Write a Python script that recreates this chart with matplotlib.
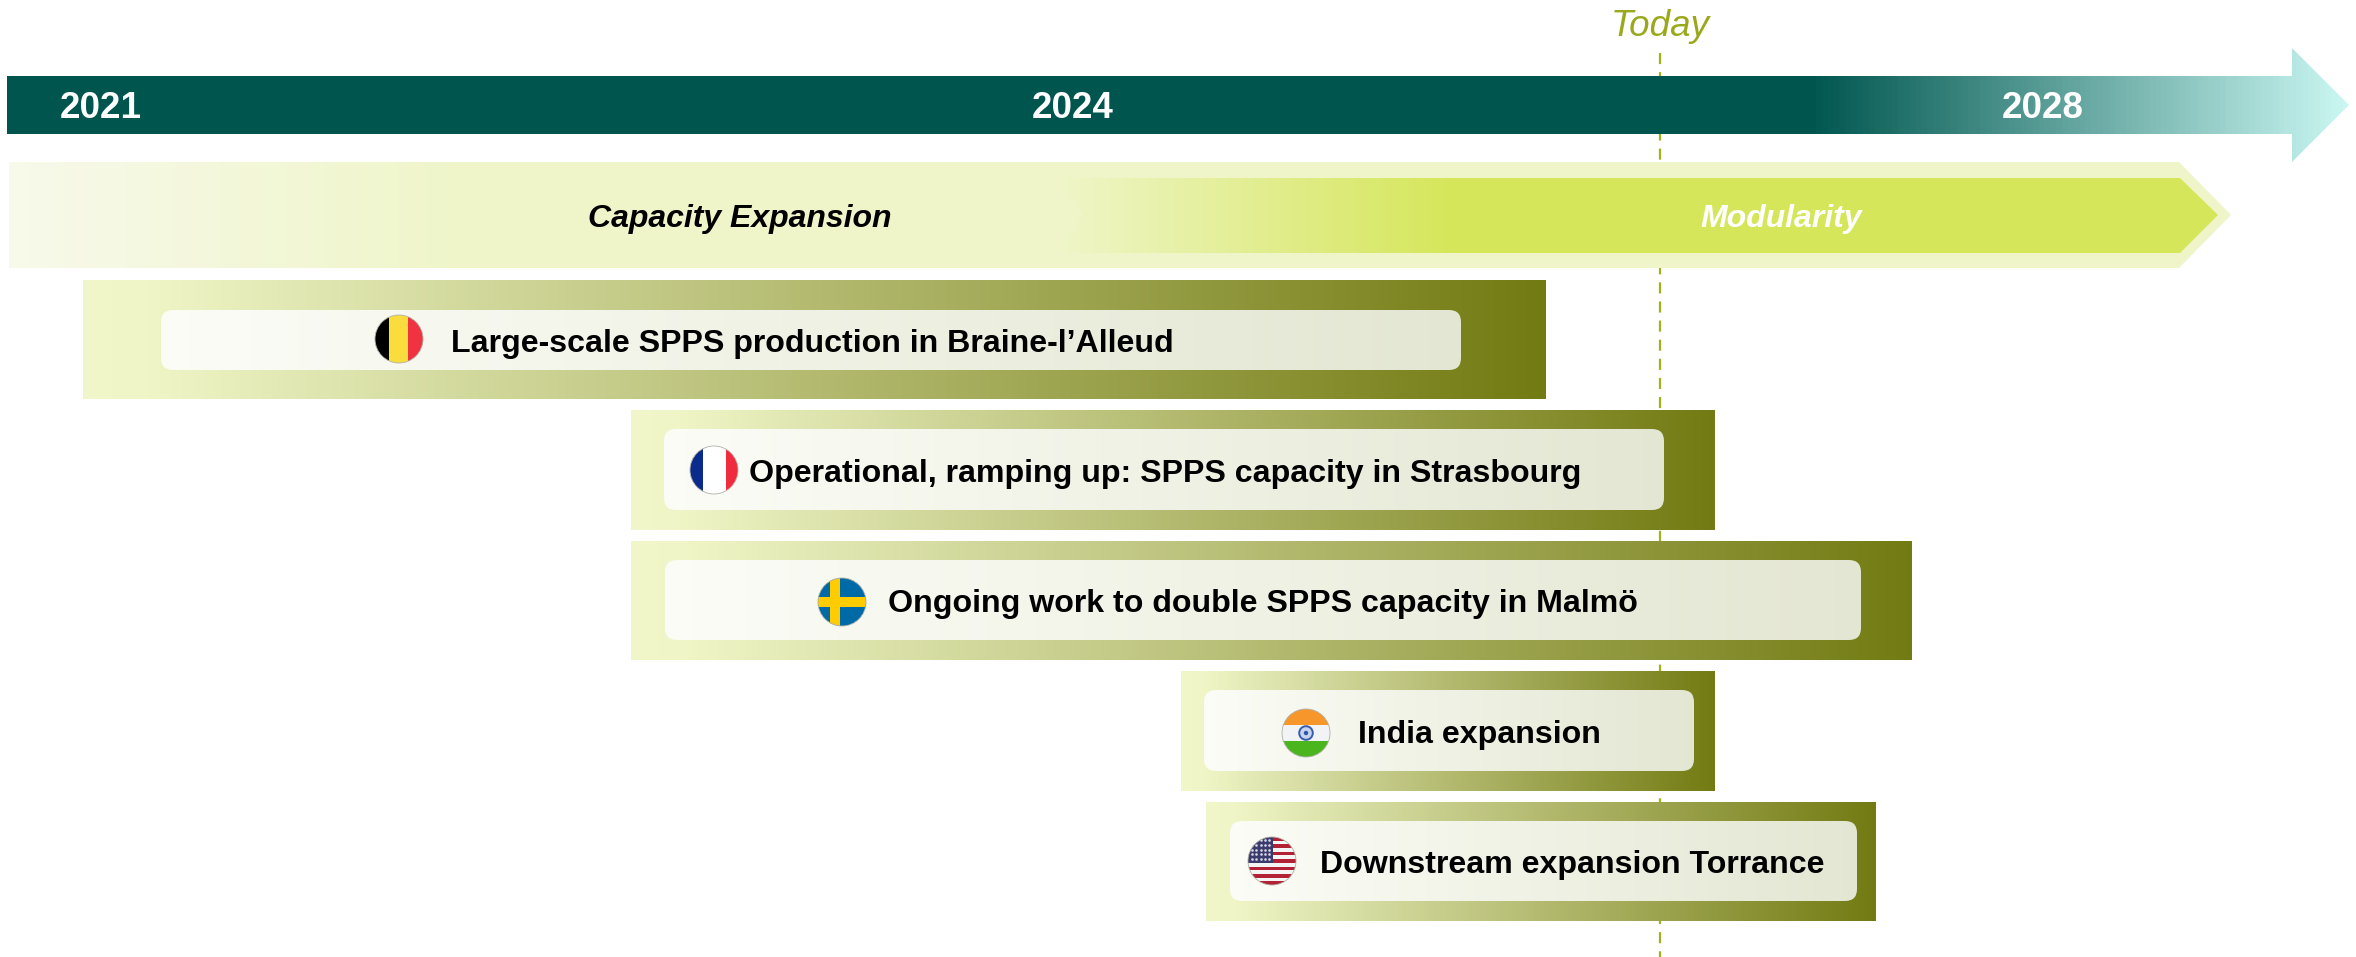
import numpy as np
import matplotlib
matplotlib.use("Agg")
import matplotlib.pyplot as plt
from matplotlib.colors import to_rgb
from matplotlib.patches import Circle, FancyBboxPatch, Polygon, Rectangle
from matplotlib.transforms import Affine2D

plt.rcParams['font.family'] = ['Liberation Sans', 'DejaVu Sans']

# timeline (decimal years)
year_labels = [2021, 2024, 2028]
today = 2026.42
timeline_start, timeline_end = 2020.711, 2029.26
phase_start, phase_switch, phase_end = 2020.717, 2023.95, 2028.775
phase_names = ["Capacity Expansion", "Modularity"]

projects = ["Large-scale SPPS production in Braine-l\u2019Alleud",
            "Operational, ramping up: SPPS capacity in Strasbourg",
            "Ongoing work to double SPPS capacity in Malm\u00f6",
            "India expansion",
            "Downstream expansion Torrance"]
project_start = [2020.946, 2022.637, 2022.637, 2024.447, 2024.55]
project_end = [2025.95, 2026.65, 2027.46, 2026.65, 2027.31]
flags = ["be", "fr", "se", "in", "us"]

# layout, in reference pixels
W, H = 2356, 957
scale_years = [2020, 2021, 2024, 2028, 2030]
scale_px = [-224, 100.5, 1072.5, 2043, 2528.5]
row_top = [280, 410, 541, 671, 802]
row_bottom = [399, 530, 660, 791, 921]
box_top = [310, 429, 560, 690, 821]
box_bottom = [370, 510, 640, 771, 901]
box_inset_l = [78, 33, 34, 23, 24]
box_inset_r = [85, 51, 51, 21, 19]
flag_x = [399, 714, 842, 1306, 1272]
flag_y = [339, 470, 602, 733, 861]
text_x = [451, 749, 888, 1358, 1320]
text_y = [344, 474, 604, 735, 865]
FLAG_R = 24


def forward(x):
    return np.interp(x, scale_years, scale_px)


def inverse(p):
    return np.interp(p, scale_px, scale_years)


fig = plt.figure(figsize=(W / 100, H / 100), dpi=100)
ax = fig.add_axes([0, 0, 1, 1])
ax.set_xscale('function', functions=(forward, inverse))
ax.set_xlim(inverse(0), inverse(W))
ax.set_ylim(H, 0)
ax.axis('off')

px = Affine2D().scale(1, -1).translate(0, H)


def xpx(year):
    return float(ax.transData.transform((year, 0))[0])


def gradient(x0, x1, y0, y1, stops, clip=None, z=1):
    edges = np.linspace(x0, x1, 401)
    t = (edges[:-1] + edges[1:]) / 2
    c = np.array([to_rgb(s[1]) for s in stops])
    pos = [x0 + s[0] * (x1 - x0) for s in stops]
    rgb = np.stack([np.interp(t, pos, c[:, i]) for i in range(3)], axis=1)
    m = ax.pcolormesh(edges, [y0, y1], rgb[None, :, :], transform=px, zorder=z,
                      linewidth=0, rasterized=True)
    if clip is not None:
        m.set_clip_path(clip)
    return m


def flag(kind, cx, cy, z=5):
    r = FLAG_R
    circ = Circle((cx, cy), r, transform=px, fc='white', ec='none', zorder=z)
    ax.add_patch(circ)

    def band(x0, y0, w, h, col, zz=z + 0.1):
        b = Rectangle((cx + x0 * r, cy + y0 * r), w * r, h * r, transform=px, fc=col, ec='none', zorder=zz)
        ax.add_patch(b)
        b.set_clip_path(circ)

    if kind == "be":
        band(-1, -1, 0.6, 2, '#000000')
        band(-0.4, -1, 0.79, 2, '#FADC3C')
        band(0.39, -1, 0.61, 2, '#EF3340')
    elif kind == "fr":
        band(-1, -1, 0.53, 2, '#0A2A8C')
        band(-0.47, -1, 0.96, 2, '#FFFFFF')
        band(0.49, -1, 0.51, 2, '#EF2B3D')
    elif kind == "se":
        band(-1, -1, 2, 2, '#006AA7')
        band(-0.5, -1, 0.42, 2, '#FECC00')
        band(-1, -0.2, 2, 0.4, '#FECC00')
    elif kind == "in":
        band(-1, -1, 2, 0.68, '#F7962B')
        band(-1, -0.33, 2, 0.68, '#F2F3F5')
        band(-1, 0.35, 2, 0.65, '#4BB51E')
        ax.add_patch(Circle((cx, cy), 6.8, transform=px, fc='#C5D3EC', ec='#3A5CAD', lw=1.4, zorder=z + 0.2))
        ax.add_patch(Circle((cx, cy), 2.2, transform=px, fc='#2F55A8', ec='none', zorder=z + 0.3))
    else:
        for i in range(13):
            col = '#B22234' if i % 2 == 0 else '#F4F4F4'
            band(-1, -1 + i * 2 / 13, 2, 2 / 13, col)
        band(-1, -1, 1.04, 1.08, '#3C3B6E', z + 0.2)
        sx, sy = np.meshgrid(np.linspace(cx - 20, cx - 3, 5), np.linspace(cy - 21, cy - 2, 5))
        stars = ax.scatter(sx.ravel(), sy.ravel(), s=3.5, c='#D8DAE8', linewidths=0, transform=px, zorder=z + 0.3)
        stars.set_clip_path(circ)
    ax.add_patch(Circle((cx, cy), r, transform=px, fc='none', ec='#B0B0A8', lw=0.6, zorder=z + 1))


# today marker goes behind everything
ax.plot([today, today], [53, H], color='#A3B11E', lw=1.6, dashes=(5, 3.6), zorder=0)
ax.text(inverse(1660.5), 27, "Today", color='#9AA91C', fontsize=26.5, style='italic', ha='center', va='center')

# timeline arrow
x0, x1 = xpx(timeline_start), xpx(timeline_end)
arrow = Polygon([(x0, 76), (x1 - 57, 76), (x1 - 57, 48), (x1, 105), (x1 - 57, 162), (x1 - 57, 134), (x0, 134)],
                transform=px, fc='none', ec='none')
ax.add_patch(arrow)
gradient(x0, x1, 48, 162, [(0, '#00564F'), ((1812 - x0) / (x1 - x0), '#00564F'), (1, '#CBF7F2')], arrow, z=2)
for y in year_labels:
    ax.text(y, 109, str(y), color='white', fontsize=26.5, fontweight='bold', ha='center', va='center', zorder=3)

# phase band
p0, ps, p1 = xpx(phase_start), xpx(phase_switch), xpx(phase_end)
outer = Polygon([(p0, 162), (p1 - 52, 162), (p1, 215), (p1 - 52, 268), (p0, 268)], transform=px, fc='none', ec='none')
ax.add_patch(outer)
gradient(p0, p1, 162, 268, [(0, '#F7F9EA'), (0.2, '#EFF5C9'), (1, '#EFF5C9')], outer, z=2)
inner = Polygon([(ps, 178), (p1 - 51, 178), (p1 - 13, 215), (p1 - 51, 253), (ps, 253), (ps + 27, 215)],
                transform=px, fc='none', ec='none')
ax.add_patch(inner)
gradient(ps, p1 - 13, 178, 253, [(0, '#EFF5C9'), (0.34, '#D5E65A'), (1, '#D5E65A')], inner, z=3)
ax.text(inverse(740), 219, phase_names[0], color='black', fontsize=23, fontweight='bold', style='italic',
        ha='center', va='center', zorder=4)
ax.text(inverse(1781), 219, phase_names[1], color='white', fontsize=23, fontweight='bold', style='italic',
        ha='center', va='center', zorder=4)

# project rows
for i, name in enumerate(projects):
    a, b = xpx(project_start[i]), xpx(project_end[i])
    gradient(a, b, row_top[i], row_bottom[i], [(0, '#F0F6C9'), (0.04, '#EFF5C6'), (1, '#727A12')], z=2)
    bx0, bx1 = a + box_inset_l[i], b - box_inset_r[i]
    box = FancyBboxPatch((bx0 + 12, box_top[i] + 12), bx1 - bx0 - 24, box_bottom[i] - box_top[i] - 24,
                         boxstyle="round,pad=12,rounding_size=12", transform=px, fc='none', ec='none')
    ax.add_patch(box)
    gradient(bx0, bx1, box_top[i], box_bottom[i], [(0, '#FBFCF6'), (1, '#E3E6D2')], box, z=3)
    flag(flags[i], flag_x[i], flag_y[i])
    ax.text(inverse(text_x[i]), text_y[i], name, color='black', fontsize=23.1, fontweight='bold',
            ha='left', va='center', zorder=6)

fig.savefig("out.png", dpi=100, facecolor='white')
